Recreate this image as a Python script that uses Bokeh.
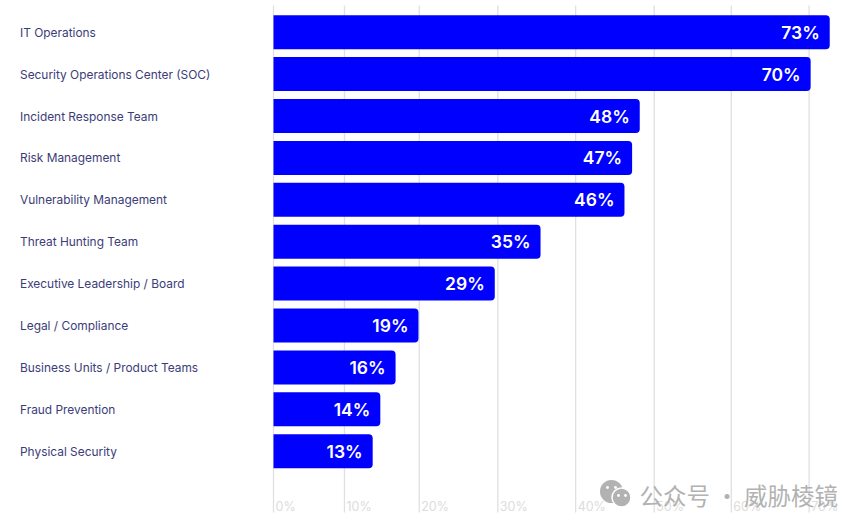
from bokeh.plotting import figure
from bokeh.models import ColumnDataSource, Range1d, Label
from bokeh.core.properties import value
from bokeh.embed import file_html
from bokeh.resources import INLINE

categories = ["IT Operations", "Security Operations Center (SOC)", "Incident Response Team",
              "Risk Management", "Vulnerability Management", "Threat Hunting Team",
              "Executive Leadership / Board", "Legal / Compliance",
              "Business Units / Product Teams", "Fraud Prevention", "Physical Security"]
# the printed percentages, and the bar lengths
labels = [73, 70, 48, 47, 46, 35, 29, 19, 16, 14, 13]
values = [72.9, 70.4, 48, 47, 46, 35, 29, 19, 16, 14, 13]
tick_labels = ["0%", "10%", "20%", "30%", "40%", "50%", "60%", "70%"]
# gridlines as they stand in the picture (slightly off the bar scale)
tick_positions = [0, 9.3, 19.1, 29.4, 39.6, 49.9, 60.0, 70.2]

W, H = 857, 520
PX = 7.63          # pixels per percent
X0 = 273           # frame x of 0 %
ROW = 41.9         # pixels per row
Y0 = 31.7          # frame y of first row

p = figure(width=W, height=H, output_backend="svg", toolbar_location=None,
           x_range=Range1d(-X0 / PX, (W - X0) / PX),
           y_range=Range1d((H - Y0) / ROW, -Y0 / ROW),
           min_border=0, outline_line_color=None)
p.axis.visible = False
p.grid.visible = False
p.background_fill_color = "white"
p.border_fill_color = "white"

rows = list(range(len(categories)))
src = ColumnDataSource(dict(y=rows, v=values, cat=categories,
                            lab=[f"{v}%" for v in labels], zero=[0] * len(rows)))

def py(pixel_y):
    return (pixel_y - Y0) / ROW

def px(pixel_x):
    return (pixel_x - X0) / PX

p.segment(x0=tick_positions, x1=tick_positions, y0=[py(5)] * 8, y1=[py(512)] * 8,
          line_color="#e0e0e0", line_width=1.3)
p.text(x=tick_positions, y=[py(506)] * 8, text=tick_labels, x_offset=2,
       text_font=value("Inter"), text_font_size="12.5px", text_color="#dcdcdc",
       text_align="left", text_baseline="middle")

p.hbar(y="y", left="zero", right="v", height=34 / ROW, source=src,
       fill_color="#0000ff", line_color=None, border_radius=(0, 4, 4, 0))

p.text(x="zero", y="y", text="cat", source=src, x_offset=19.5 - X0,
       text_font=value("Inter"), text_font_size="11.9px", text_color="#3c3c78",
       text_align="left", text_baseline="middle")
p.text(x="v", y="y", text="lab", source=src, x_offset=-10,
       text_font=value("Inter SemiBold"), text_font_size="17.5px",
       text_color="white", text_align="right", text_baseline="middle")

# WeChat-style watermark
gray = "#b2b2b2"
p.circle(x=[px(611)], y=[py(491)], radius=11.5, radius_units="screen", fill_color=gray, line_color=None)
p.circle(x=[px(621)], y=[py(497)], radius=9.5, radius_units="screen", fill_color=gray,
         line_color="white", line_width=1.5)
p.circle(x=[px(607), px(615), px(618), px(625)], y=[py(487), py(487), py(495), py(495)],
         radius=1.4, radius_units="screen", fill_color="white", line_color=None)
p.add_layout(Label(x=639, y=H - 494, x_units="screen", y_units="screen",
                   text="公众号 · 威胁棱镜", text_font="Noto Sans CJK SC", text_font_size="23.5px",
                   text_color=gray, text_align="left", text_baseline="middle"))

open("out.html", "w").write(file_html(p, INLINE))
